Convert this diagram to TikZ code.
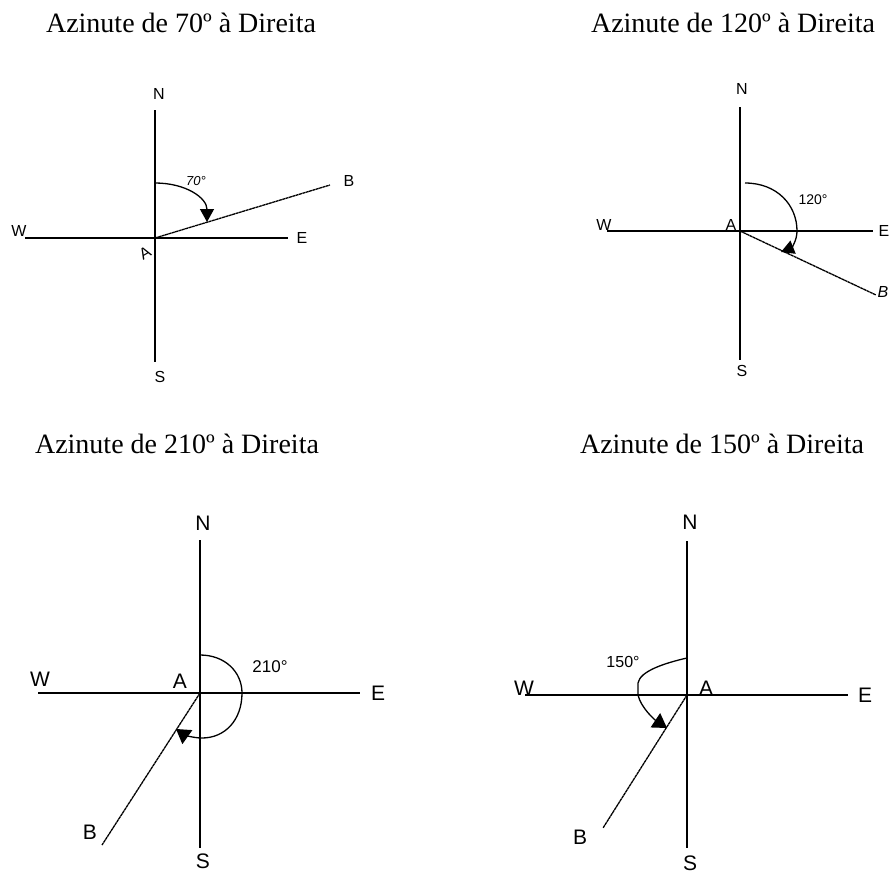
\documentclass[tikz,border=0pt]{standalone}
\usepackage{fontspec}
\setmainfont{Liberation Serif}
\newfontfamily\lblfont{Liberation Sans}
\usetikzlibrary{arrows.meta}
\begin{document}
\begin{tikzpicture}[x=1pt,y=-1pt,
  axisA/.style={line width=1.6pt},
  axisB/.style={line width=1.3pt},
  bline/.style={line width=1.3pt, dash pattern=on 3pt off 0.5pt},
  arcline/.style={line width=1.3pt, -{Triangle[width=14pt,length=13pt]}},
  arclineL/.style={line width=1.3pt, -{Triangle[width=17pt,length=14pt]}},
  ttl/.style={font=\fontsize{28}{30}\selectfont, anchor=base, inner sep=0pt},
  lblS/.style={font=\lblfont\fontsize{16}{17}\selectfont, inner sep=0pt},
  lblL/.style={font=\lblfont\fontsize{21}{22}\selectfont, inner sep=0pt},
]
\useasboundingbox (0,0) rectangle (891,875);

% ---------- Panel 1 : 70 ----------
\node[ttl] (t1) at (181,33) {Azinute de 70º à Direita};
\coordinate (A1) at (155,238);
\coordinate (N1) at (155,110);
\coordinate (S1) at (155,362);
\coordinate (W1) at (25,238);
\coordinate (E1) at (288,238);
\coordinate (B1) at (330,185);
\coordinate (R1s) at (155,183);
\coordinate (R1e) at (207,222);
\draw[axisA] (N1) -- (S1);
\draw[axisA] (W1) -- (E1);
\draw[bline] (A1) -- (B1);
\draw[arcline] (R1s) .. controls (186,183) and (207,198) .. (R1e);
\node[lblS] (n1) at (159,94) {N};
\node[lblS] (s1) at (160,377) {S};
\node[lblS] (w1) at (19,231) {W};
\node[lblS] (e1) at (302,238) {E};
\node[lblS, rotate=30] (a1) at (145,253) {A};
\node[lblS] (b1) at (349,181) {B};
\node[font=\lblfont\itshape\fontsize{13}{14}\selectfont, inner sep=0pt] (d1) at (196,181) {70°};

% ---------- Panel 2 : 120 ----------
\node[ttl] (t2) at (733,33) {Azinute de 120º à Direita};
\coordinate (A2) at (740,231);
\coordinate (N2) at (740,107);
\coordinate (S2) at (740,360);
\coordinate (W2) at (607,231);
\coordinate (E2) at (873,231);
\coordinate (B2) at (876,295);
\coordinate (R2s) at (745,183);
\coordinate (R2m) at (797,231);
\coordinate (R2e) at (781,252);
\draw[axisA] (N2) -- (S2);
\draw[axisA] (W2) -- (E2);
\draw[bline] (A2) -- (B2);
\draw[arcline] (R2s) .. controls (777,183) and (797,205) .. (R2m)
  .. controls (797,241) and (791,248) .. (R2e);
\node[lblS] (n2) at (742,89) {N};
\node[lblS] (s2) at (742,371) {S};
\node[lblS] (w2) at (604,225) {W};
\node[lblS] (e2) at (884,231) {E};
\node[lblS] (a2) at (731,225) {A};
\node[lblS] (b2) at (883,292) {\itshape B};
\node[font=\lblfont\fontsize{14}{15}\selectfont, inner sep=0pt] (d2) at (813,200) {120°};

% ---------- Panel 3 : 210 ----------
\node[ttl] (t3) at (177,453) {Azinute de 210º à Direita};
\coordinate (A3) at (200,693);
\coordinate (N3) at (200,540);
\coordinate (S3) at (200,848);
\coordinate (W3) at (38,693);
\coordinate (E3) at (360,693);
\coordinate (B3) at (102,845);
\coordinate (R3s) at (200,655);
\coordinate (R3r) at (242,693);
\coordinate (R3b) at (202,738);
\coordinate (R3e) at (176,729);
\draw[axisB] (N3) -- (S3);
\draw[axisB] (W3) -- (E3);
\draw[bline] (A3) -- (B3);
\draw[arclineL] (R3s) .. controls (225,655) and (242,672) .. (R3r)
  .. controls (242,720) and (225,738) .. (R3b)
  .. controls (192,738) and (183,734) .. (R3e);
\node[lblL] (n3) at (203,523) {N};
\node[lblL] (s3) at (203,861) {S};
\node[lblL] (w3) at (40,679) {W};
\node[lblL] (e3) at (378,693) {E};
\node[lblL] (a3) at (180,681) {A};
\node[lblL] (b3) at (90,832) {B};
\node[font=\lblfont\fontsize{17}{18}\selectfont, inner sep=0pt] (d3) at (270,667) {210°};

% ---------- Panel 4 : 150 ----------
\node[ttl] (t4) at (722,453) {Azinute de 150º à Direita};
\coordinate (A4) at (687,695);
\coordinate (N4) at (687,541);
\coordinate (S4) at (687,848);
\coordinate (W4) at (525,695);
\coordinate (E4) at (848,695);
\coordinate (B4) at (603,828);
\coordinate (R4s) at (687,658);
\coordinate (R4l) at (638,683);
\coordinate (R4m) at (638,695);
\coordinate (R4e) at (667,728);
\draw[axisB] (N4) -- (S4);
\draw[axisB] (W4) -- (E4);
\draw[bline] (A4) -- (B4);
\draw[arclineL] (R4s) .. controls (665,663) and (640,671) .. (R4l) -- (R4m)
  .. controls (641,708) and (655,720) .. (R4e);
\node[lblL] (n4) at (690,522) {N};
\node[lblL] (s4) at (690,863) {S};
\node[lblL] (w4) at (524,688) {W};
\node[lblL] (e4) at (865,695) {E};
\node[lblL] (a4) at (706,688) {A};
\node[lblL] (b4) at (580,837) {B};
\node[font=\lblfont\fontsize{16}{17}\selectfont, inner sep=0pt] (d4) at (623,662) {150°};
\end{tikzpicture}
\end{document}
